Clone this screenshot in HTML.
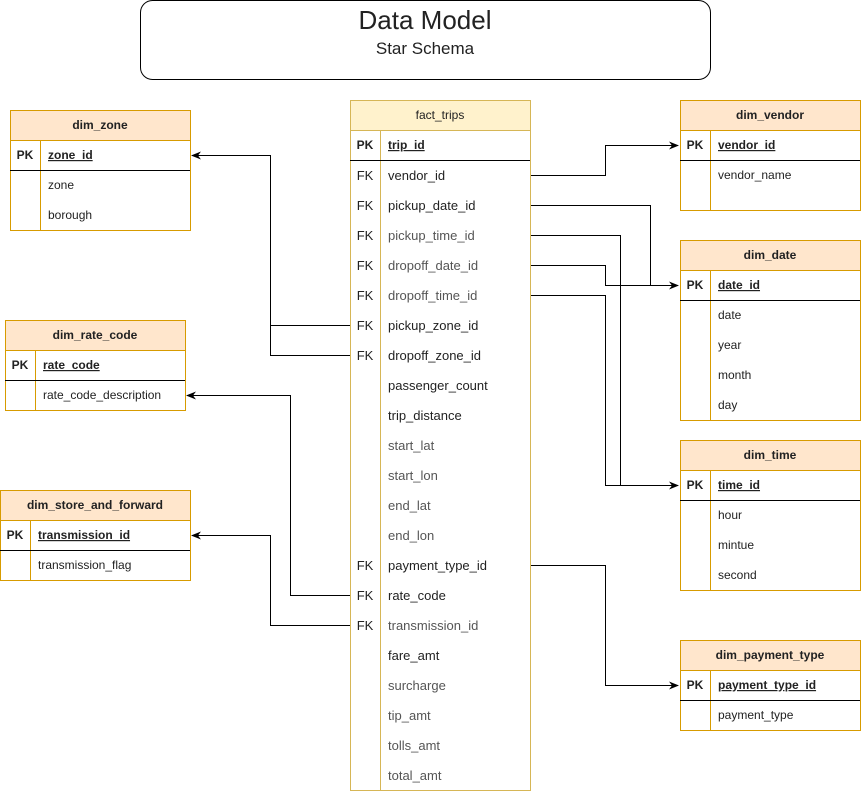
<!DOCTYPE html>
<html><head><meta charset="utf-8"><style>html,body{margin:0;padding:0;background:#fff}svg{display:block}text{font-family:"Liberation Sans",Arial,sans-serif;font-size:12px;fill:#222}.f text{font-size:13px}</style></head><body>
<svg width="861" height="792" viewBox="0 0 861 792" xmlns="http://www.w3.org/2000/svg">
<defs><marker id="a" markerWidth="10" markerHeight="8" refX="9" refY="4" orient="auto" markerUnits="userSpaceOnUse"><path d="M0,0 L10,4 L0,8 L3,4 z" fill="#000"/></marker></defs>
<rect x="140.5" y="0.5" width="570" height="79" rx="12" fill="#fff" stroke="#000"/>
<text x="425" y="29" text-anchor="middle" style="font-size:26px" fill="#000">Data Model</text>
<text x="425" y="54" text-anchor="middle" style="font-size:17px" fill="#000">Star Schema</text>

<g fill="none" stroke="#000" stroke-width="1">
<path d="M530,175.5H605.5V145.5H678" marker-end="url(#a)"/>
<path d="M530,205.5H650.5V285.5H678" marker-end="url(#a)"/>
<path d="M530,235.5H620.5V485.5H678" marker-end="url(#a)"/>
<path d="M530,265.5H605.5V285.5H650"/>
<path d="M530,295.5H605.5V485.5H620"/>
<path d="M530,565.5H605.5V685.5H678" marker-end="url(#a)"/>
<path d="M350,325.5H270.5V155.5H192" marker-end="url(#a)"/>
<path d="M350,355.5H270.5V325"/>
<path d="M350,595.5H290.5V395.5H187" marker-end="url(#a)"/>
<path d="M350,625.5H270.5V535.5H192" marker-end="url(#a)"/>
</g>

<!-- fact_trips -->
<g>
<rect x="350.5" y="100.5" width="180" height="690" fill="#fff" stroke="#d6b656"/>
<rect x="350.5" y="100.5" width="180" height="30" fill="#fff2cc" stroke="#d6b656"/>
<line x1="380.5" y1="130" x2="380.5" y2="790" stroke="#d6b656"/>
<line x1="350" y1="160.5" x2="530" y2="160.5" stroke="#000"/>
<text x="440" y="119" text-anchor="middle">fact_trips</text>
<text x="365" y="149" text-anchor="middle" font-weight="bold">PK</text>
<text x="388" y="149" font-weight="bold" text-decoration="underline">trip_id</text>
<g class="f">
<text x="365" y="180" text-anchor="middle">FK</text><text x="388" y="180">vendor_id</text>
<text x="365" y="210" text-anchor="middle">FK</text><text x="388" y="210">pickup_date_id</text>
<text x="365" y="240" text-anchor="middle">FK</text><text x="388" y="240" style="fill:#555">pickup_time_id</text>
<text x="365" y="270" text-anchor="middle">FK</text><text x="388" y="270" style="fill:#555">dropoff_date_id</text>
<text x="365" y="300" text-anchor="middle">FK</text><text x="388" y="300" style="fill:#555">dropoff_time_id</text>
<text x="365" y="330" text-anchor="middle">FK</text><text x="388" y="330">pickup_zone_id</text>
<text x="365" y="360" text-anchor="middle">FK</text><text x="388" y="360">dropoff_zone_id</text>
<text x="388" y="390">passenger_count</text>
<text x="388" y="420">trip_distance</text>
<text x="388" y="450" style="fill:#555">start_lat</text>
<text x="388" y="480" style="fill:#555">start_lon</text>
<text x="388" y="510" style="fill:#555">end_lat</text>
<text x="388" y="540" style="fill:#555">end_lon</text>
<text x="365" y="570" text-anchor="middle">FK</text><text x="388" y="570">payment_type_id</text>
<text x="365" y="600" text-anchor="middle">FK</text><text x="388" y="600">rate_code</text>
<text x="365" y="630" text-anchor="middle">FK</text><text x="388" y="630" style="fill:#555">transmission_id</text>
<text x="388" y="660">fare_amt</text>
<text x="388" y="690" style="fill:#555">surcharge</text>
<text x="388" y="720" style="fill:#555">tip_amt</text>
<text x="388" y="750" style="fill:#555">tolls_amt</text>
<text x="388" y="780" style="fill:#555">total_amt</text>
</g></g>

<!-- dim_zone -->
<g>
<rect x="10.5" y="110.5" width="180" height="120" fill="#fff" stroke="#d79b00"/>
<rect x="10.5" y="110.5" width="180" height="30" fill="#ffe6cc" stroke="#d79b00"/>
<line x1="40.5" y1="140" x2="40.5" y2="230" stroke="#d79b00"/>
<line x1="10" y1="170.5" x2="190" y2="170.5" stroke="#000"/>
<text x="100" y="129" text-anchor="middle" font-weight="bold">dim_zone</text>
<text x="25" y="159" text-anchor="middle" font-weight="bold">PK</text>
<text x="48" y="159" font-weight="bold" text-decoration="underline">zone_id</text>
<text x="48" y="189">zone</text><text x="48" y="219">borough</text>
</g>
<!-- dim_rate_code -->
<g>
<rect x="5.5" y="320.5" width="180" height="90" fill="#fff" stroke="#d79b00"/>
<rect x="5.5" y="320.5" width="180" height="30" fill="#ffe6cc" stroke="#d79b00"/>
<line x1="35.5" y1="350" x2="35.5" y2="410" stroke="#d79b00"/>
<line x1="5" y1="380.5" x2="185" y2="380.5" stroke="#000"/>
<text x="95" y="339" text-anchor="middle" font-weight="bold">dim_rate_code</text>
<text x="20" y="369" text-anchor="middle" font-weight="bold">PK</text>
<text x="43" y="369" font-weight="bold" text-decoration="underline">rate_code</text>
<text x="43" y="399">rate_code_description</text>
</g>
<!-- dim_store_and_forward -->
<g>
<rect x="0.5" y="490.5" width="190" height="90" fill="#fff" stroke="#d79b00"/>
<rect x="0.5" y="490.5" width="190" height="30" fill="#ffe6cc" stroke="#d79b00"/>
<line x1="30.5" y1="520" x2="30.5" y2="580" stroke="#d79b00"/>
<line x1="0" y1="550.5" x2="190" y2="550.5" stroke="#000"/>
<text x="95" y="509" text-anchor="middle" font-weight="bold">dim_store_and_forward</text>
<text x="15" y="539" text-anchor="middle" font-weight="bold">PK</text>
<text x="38" y="539" font-weight="bold" text-decoration="underline">transmission_id</text>
<text x="38" y="569">transmission_flag</text>
</g>
<!-- dim_vendor -->
<g>
<rect x="680.5" y="100.5" width="180" height="110" fill="#fff" stroke="#d79b00"/>
<rect x="680.5" y="100.5" width="180" height="30" fill="#ffe6cc" stroke="#d79b00"/>
<line x1="710.5" y1="130" x2="710.5" y2="210" stroke="#d79b00"/>
<line x1="680" y1="160.5" x2="860" y2="160.5" stroke="#000"/>
<text x="770" y="119" text-anchor="middle" font-weight="bold">dim_vendor</text>
<text x="695" y="149" text-anchor="middle" font-weight="bold">PK</text>
<text x="718" y="149" font-weight="bold" text-decoration="underline">vendor_id</text>
<text x="718" y="179">vendor_name</text>
</g>
<!-- dim_date -->
<g>
<rect x="680.5" y="240.5" width="180" height="180" fill="#fff" stroke="#d79b00"/>
<rect x="680.5" y="240.5" width="180" height="30" fill="#ffe6cc" stroke="#d79b00"/>
<line x1="710.5" y1="270" x2="710.5" y2="420" stroke="#d79b00"/>
<line x1="680" y1="300.5" x2="860" y2="300.5" stroke="#000"/>
<text x="770" y="259" text-anchor="middle" font-weight="bold">dim_date</text>
<text x="695" y="289" text-anchor="middle" font-weight="bold">PK</text>
<text x="718" y="289" font-weight="bold" text-decoration="underline">date_id</text>
<text x="718" y="319">date</text><text x="718" y="349">year</text><text x="718" y="379">month</text><text x="718" y="409">day</text>
</g>
<!-- dim_time -->
<g>
<rect x="680.5" y="440.5" width="180" height="150" fill="#fff" stroke="#d79b00"/>
<rect x="680.5" y="440.5" width="180" height="30" fill="#ffe6cc" stroke="#d79b00"/>
<line x1="710.5" y1="470" x2="710.5" y2="590" stroke="#d79b00"/>
<line x1="680" y1="500.5" x2="860" y2="500.5" stroke="#000"/>
<text x="770" y="459" text-anchor="middle" font-weight="bold">dim_time</text>
<text x="695" y="489" text-anchor="middle" font-weight="bold">PK</text>
<text x="718" y="489" font-weight="bold" text-decoration="underline">time_id</text>
<text x="718" y="519">hour</text><text x="718" y="549">mintue</text><text x="718" y="579">second</text>
</g>
<!-- dim_payment_type -->
<g>
<rect x="680.5" y="640.5" width="180" height="90" fill="#fff" stroke="#d79b00"/>
<rect x="680.5" y="640.5" width="180" height="30" fill="#ffe6cc" stroke="#d79b00"/>
<line x1="710.5" y1="670" x2="710.5" y2="730" stroke="#d79b00"/>
<line x1="680" y1="700.5" x2="860" y2="700.5" stroke="#000"/>
<text x="770" y="659" text-anchor="middle" font-weight="bold">dim_payment_type</text>
<text x="695" y="689" text-anchor="middle" font-weight="bold">PK</text>
<text x="718" y="689" font-weight="bold" text-decoration="underline">payment_type_id</text>
<text x="718" y="719">payment_type</text>
</g>
</svg>
</body></html>
